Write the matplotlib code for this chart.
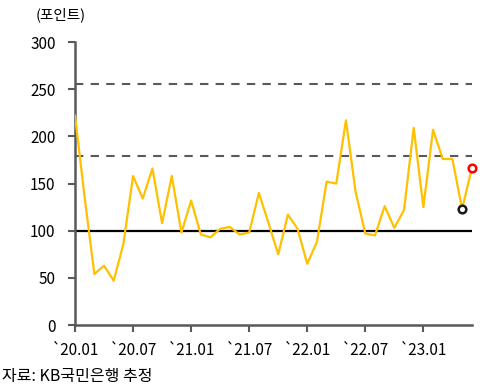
import numpy as np
import matplotlib.pyplot as plt

plt.rcParams['font.family'] = ['Noto Sans CJK KR', 'DejaVu Sans']

# 월별 지수 (2020.01 ~ 2023.06)
values = [222, 135, 54, 63, 47, 86, 158, 134, 166, 108, 158, 98,
          132, 96, 93, 102, 104, 96, 98, 140, 108, 75, 117, 102,
          65, 88, 152, 150, 217, 141, 97, 95, 126, 103, 122, 209,
          125, 207, 176, 176, 123, 166]
tick_pos = [0, 6, 12, 18, 24, 30, 36]
tick_labels = ['`20.01', '`20.07', '`21.01', '`21.07', '`22.01', '`22.07', '`23.01']
upper_lines = [256, 179]
base_line = 100

fig = plt.figure(figsize=(4.88, 3.86), dpi=100)
ax = fig.add_axes([0.1537, 0.158, 0.813, 0.733])

x = np.arange(len(values))
ax.plot(x, values, color='#FFC000', linewidth=1.6, zorder=3)
ax.axhline(base_line, color='black', linewidth=1.6, zorder=2)
for v in upper_lines:
    ax.axhline(v, color='#595959', linewidth=1.5, linestyle=(0, (4, 3.5)), zorder=2)

ax.plot(x[-2], values[-2], 'o', markersize=5.5, markerfacecolor='white',
        markeredgecolor='#1a1a1a', markeredgewidth=1.8, zorder=4, clip_on=False)
ax.plot(x[-1], values[-1], 'o', markersize=5.5, markerfacecolor='white',
        markeredgecolor='red', markeredgewidth=1.8, zorder=4, clip_on=False)

ax.set_xlim(0, len(values) - 1)
ax.set_ylim(0, 300)
ax.set_yticks(range(0, 301, 50))
ax.set_xticks(tick_pos)
ax.set_xticklabels(tick_labels)

for s in ['top', 'right']:
    ax.spines[s].set_visible(False)
for s in ['left', 'bottom']:
    ax.spines[s].set_color('#595959')
    ax.spines[s].set_linewidth(1.8)
ax.tick_params(axis='both', colors='#595959', width=1.5, length=5, labelsize=11,
               labelcolor='black')
ax.tick_params(axis='x', pad=7)
ax.tick_params(axis='y', pad=9)

fig.text(0.072, 0.962, '(포인트)', fontsize=10.5, va='center', ha='left')
fig.text(0.004, 0.024, '자료: KB국민은행 추정', fontsize=11.5, va='center', ha='left')

fig.savefig('out.png', dpi=100)
